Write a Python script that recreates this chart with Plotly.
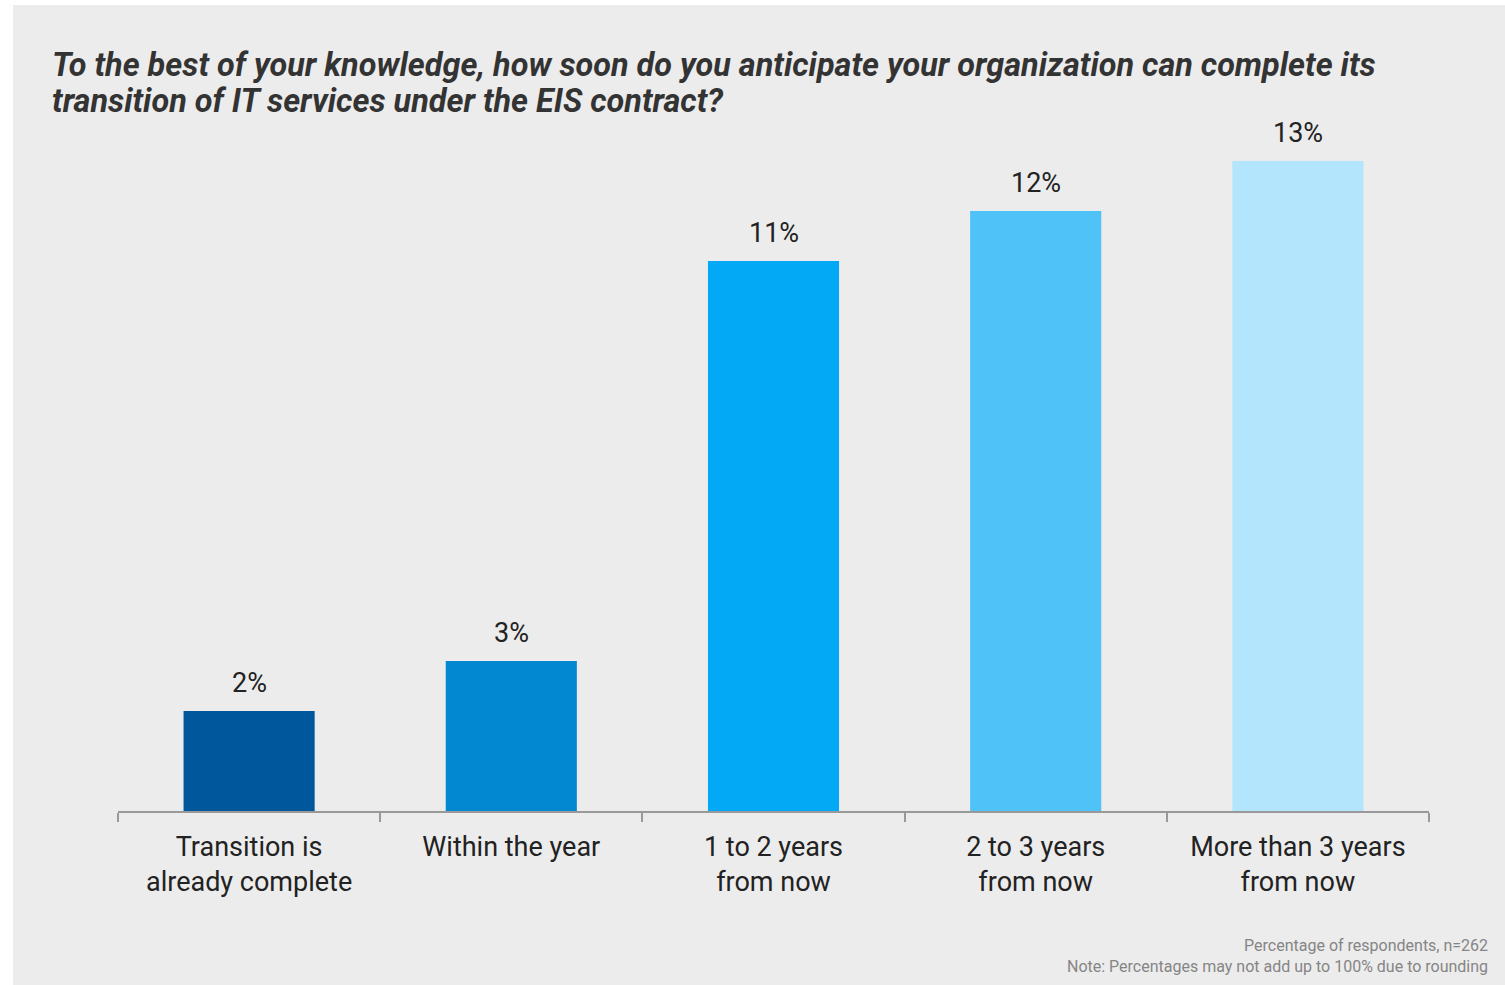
import plotly.graph_objects as go

# Survey responses
categories = [
    "Transition is<br>already complete",
    "Within the year",
    "1 to 2 years<br>from now",
    "2 to 3 years<br>from now",
    "More than 3 years<br>from now",
]
values = [2, 3, 11, 12, 13]
bar_colors = ["#01579B", "#0288D1", "#03A9F4", "#4FC3F7", "#B3E5FC"]

title_lines = [
    "To the best of your knowledge, how soon do you anticipate your organization can complete its",
    "transition of IT services under the EIS contract?",
]
footnote_text = ("Percentage of respondents, n=262"
                 "<br>Note: Percentages may not add up to 100% due to rounding")

W, H = 1505, 985
L, R, T, B = 118, 76, 111, 174
pw, ph = W - L - R, H - T - B

bg = "#ececec"
font_family = "Roboto, Arial, sans-serif"


def px_x(px):
    return (px - L) / pw


def px_y(py):
    return (H - B - py) / ph


fig = go.Figure(
    go.Bar(
        x=categories,
        y=values,
        marker=dict(color=bar_colors, line=dict(width=0)),
        hoverinfo="skip",
    )
)

# value labels above each bar
for c, v in zip(categories, values):
    fig.add_annotation(
        x=c, y=v, text=f"{v}%", showarrow=False,
        yanchor="bottom", yshift=10,
        font=dict(family=font_family, size=27, color="#222222"),
    )

# question title, one annotation per line for tight line spacing
for i, line in enumerate(title_lines):
    fig.add_annotation(
        xref="paper", yref="paper",
        x=px_x(50), y=px_y(44 + 36 * i),
        xanchor="left", yanchor="top", align="left",
        text=line, showarrow=False,
        font=dict(family=font_family, size=32.4, color="#333333",
                  weight="bold", style="italic"),
    )

# footnote, bottom right
fig.add_annotation(
    xref="paper", yref="paper",
    x=px_x(1490), y=px_y(934),
    xanchor="right", yanchor="top", align="right",
    text=footnote_text, showarrow=False,
    font=dict(family=font_family, size=16, color="#858585"),
)

# white frame strips along the left and top edges
fig.add_shape(type="rect", xref="paper", yref="paper", layer="above",
              x0=px_x(0), x1=px_x(13), y0=px_y(H), y1=px_y(0),
              fillcolor="white", line=dict(width=0))
fig.add_shape(type="rect", xref="paper", yref="paper", layer="above",
              x0=px_x(0), x1=px_x(W), y0=px_y(5), y1=px_y(0),
              fillcolor="white", line=dict(width=0))

fig.update_layout(
    width=W, height=H,
    margin=dict(l=L, r=R, t=T, b=B, pad=0),
    paper_bgcolor=bg, plot_bgcolor=bg,
    bargap=0.5,
    showlegend=False,
    xaxis=dict(
        type="category",
        tickson="boundaries",
        ticks="outside", ticklen=9, tickcolor="#999999", tickwidth=1.5,
        ticklabelstandoff=11,
        showline=True, linecolor="#999999", linewidth=1.5,
        showgrid=False, zeroline=False,
        tickfont=dict(family=font_family, size=27, color="#222222"),
        fixedrange=True,
    ),
    yaxis=dict(
        range=[0, 14], visible=False, showgrid=False, zeroline=False,
        fixedrange=True,
    ),
)

fig.write_html("out.html")
